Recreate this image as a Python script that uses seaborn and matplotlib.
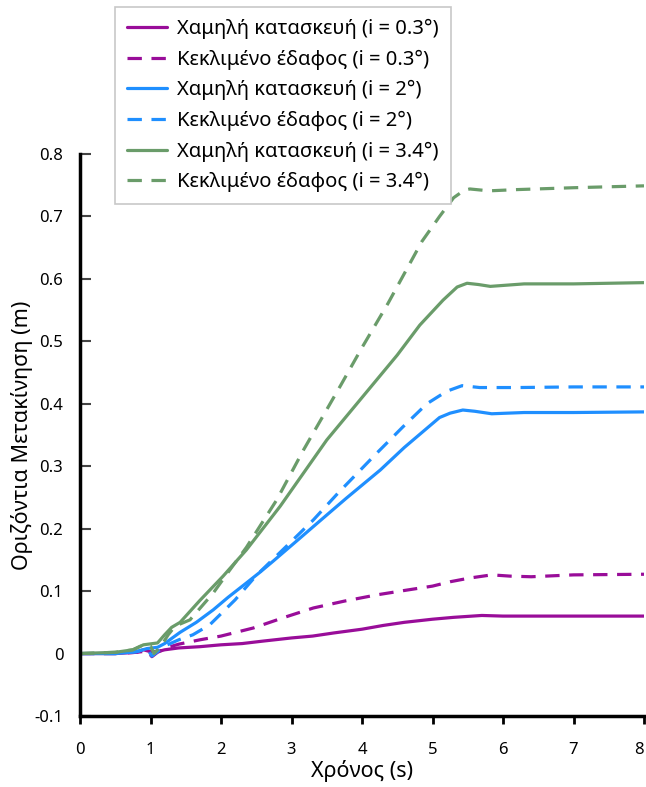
import matplotlib
matplotlib.use("Agg")
import matplotlib.pyplot as plt
import seaborn as sns
import pandas as pd

# ---- data ----
t_ps = [0, 0.5, 0.8, 0.9, 1.0, 1.1, 1.2, 1.4, 1.7, 2.0, 2.3, 2.6, 3.0, 3.3, 3.6, 4.0, 4.3, 4.6, 5.0, 5.3, 5.7, 6.0, 7.0, 8.0]
v_ps = [0, 0, 0.002, 0.006, 0.003, 0.003, 0.006, 0.009, 0.011, 0.014, 0.016, 0.020, 0.025, 0.028, 0.033, 0.039, 0.045, 0.050, 0.055, 0.058, 0.061, 0.060, 0.060, 0.060]

t_pd = [0, 0.5, 0.8, 0.95, 1.02, 1.1, 1.25, 1.4, 1.7, 2.0, 2.46, 2.9, 3.31, 3.75, 4.21, 4.6, 5.0, 5.25, 5.53, 5.84, 6.1, 6.4, 7.0, 8.0]
v_pd = [0, 0, 0.002, 0.004, -0.005, 0.002, 0.010, 0.015, 0.022, 0.028, 0.041, 0.058, 0.073, 0.084, 0.094, 0.101, 0.108, 0.115, 0.121, 0.126, 0.124, 0.123, 0.126, 0.127]

t_bs = [0, 0.5, 0.8, 0.95, 1.1, 1.2, 1.42, 1.65, 1.89, 2.1, 2.36, 2.55, 2.74, 3.07, 3.45, 3.78, 4.26, 4.6, 5.1, 5.25, 5.43, 5.6, 5.84, 6.3, 7.0, 8.0]
v_bs = [0, 0, 0.003, 0.008, 0.010, 0.016, 0.034, 0.050, 0.070, 0.090, 0.113, 0.130, 0.148, 0.180, 0.217, 0.249, 0.294, 0.330, 0.378, 0.385, 0.390, 0.388, 0.384, 0.386, 0.386, 0.387]

t_bd = [0, 0.5, 0.8, 0.95, 1.02, 1.1, 1.2, 1.4, 1.6, 1.84, 2.2, 2.5, 2.93, 3.31, 3.66, 4.21, 4.58, 4.92, 5.2, 5.42, 5.67, 6.2, 7.0, 8.0]
v_bd = [0, 0, 0.003, 0.008, -0.004, 0.003, 0.012, 0.022, 0.030, 0.046, 0.086, 0.125, 0.172, 0.214, 0.257, 0.321, 0.363, 0.400, 0.420, 0.429, 0.426, 0.426, 0.427, 0.427]

t_gs = [0, 0.5, 0.75, 0.9, 1.1, 1.2, 1.3, 1.42, 1.7, 2.03, 2.36, 2.84, 3.5, 4.0, 4.5, 4.82, 5.15, 5.35, 5.49, 5.65, 5.82, 6.3, 7.0, 8.0]
v_gs = [0, 0.002, 0.006, 0.014, 0.017, 0.030, 0.042, 0.050, 0.085, 0.124, 0.166, 0.236, 0.342, 0.410, 0.478, 0.526, 0.566, 0.587, 0.593, 0.591, 0.588, 0.592, 0.592, 0.594]

t_gd = [0, 0.5, 0.75, 0.9, 1.0, 1.05, 1.15, 1.25, 1.35, 1.56, 1.89, 2.1, 2.36, 2.79, 3.17, 3.7, 4.0, 4.37, 4.85, 5.1, 5.3, 5.45, 5.53, 5.8, 6.2, 7.0, 8.0]
v_gd = [0, 0.002, 0.006, 0.014, 0.012, 0.0, 0.012, 0.030, 0.044, 0.054, 0.097, 0.130, 0.170, 0.246, 0.326, 0.430, 0.490, 0.561, 0.660, 0.700, 0.730, 0.742, 0.744, 0.741, 0.743, 0.746, 0.749]

labels = ["Χαμηλή κατασκευή (i = 0.3°)", "Κεκλιμένο έδαφος (i = 0.3°)",
          "Χαμηλή κατασκευή (i = 2°)", "Κεκλιμένο έδαφος (i = 2°)",
          "Χαμηλή κατασκευή (i = 3.4°)", "Κεκλιμένο έδαφος (i = 3.4°)"]
colors = ["#990d99", "#990d99", "#1f8fff", "#1f8fff", "#6a9c6a", "#6a9c6a"]
dashed = [False, True, False, True, False, True]
series = [(t_ps, v_ps), (t_pd, v_pd), (t_bs, v_bs), (t_bd, v_bd), (t_gs, v_gs), (t_gd, v_gd)]

x_ticks = [0, 1, 2, 3, 4, 5, 6, 7, 8]
y_ticks = [-0.1, 0, 0.1, 0.2, 0.3, 0.4, 0.5, 0.6, 0.7, 0.8]
y_ticklabels = ["-0.1", "0", "0.1", "0.2", "0.3", "0.4", "0.5", "0.6", "0.7", "0.8"]

sns.set_theme(style="white")
plt.rcParams["font.family"] = ["Noto Sans", "DejaVu Sans"]

fig = plt.figure(figsize=(6.46, 7.87), dpi=100)
ax = fig.add_axes([80 / 646, 1 - 716 / 787, 564 / 646, 562 / 787])

for (t, v), lab, col, dsh in zip(series, labels, colors, dashed):
    df = pd.DataFrame({"t": t, "v": v})
    ls = (0, (4.5, 3)) if dsh else "-"
    sns.lineplot(data=df, x="t", y="v", ax=ax, color=col, linewidth=2.3,
                 linestyle=ls, label=lab, sort=False, estimator=None)

ax.set_xlim(0, 8)
ax.set_ylim(-0.1, 0.8)
ax.set_xticks(x_ticks)
ax.set_xticklabels([str(x) for x in x_ticks])
ax.set_yticks(y_ticks)
ax.set_yticklabels(y_ticklabels)
ax.get_xticklabels()[-1].set_horizontalalignment("right")

for s in ["top", "right"]:
    ax.spines[s].set_visible(False)
for s in ["left", "bottom"]:
    ax.spines[s].set_color("black")
    ax.spines[s].set_linewidth(2.5)

ax.tick_params(axis="x", direction="out", length=6, width=2, color="black",
               pad=13, labelsize=12, labelcolor="black", bottom=True)
ax.tick_params(axis="y", direction="in", length=8, width=1.5, color="#444444",
               pad=12, labelsize=12, labelcolor="black", left=True)

ax.set_xlabel("Χρόνος (s)", fontsize=15.5, color="black", labelpad=1)
ax.set_ylabel("Οριζόντια Μετακίνηση (m)", fontsize=15.5, color="black", labelpad=1)

leg = ax.legend(loc="upper left", bbox_to_anchor=(115 / 646, 1 - 7 / 787),
                bbox_transform=fig.transFigure, borderaxespad=0,
                fontsize=14.5, frameon=True, fancybox=False, framealpha=1,
                edgecolor="#c8c8c8", handlelength=2.0, handletextpad=0.5,
                labelspacing=0.52, borderpad=0.6)
leg.get_frame().set_linewidth(1.2)
for txt in leg.get_texts():
    txt.set_color("black")

fig.savefig("out.png", dpi=100)
